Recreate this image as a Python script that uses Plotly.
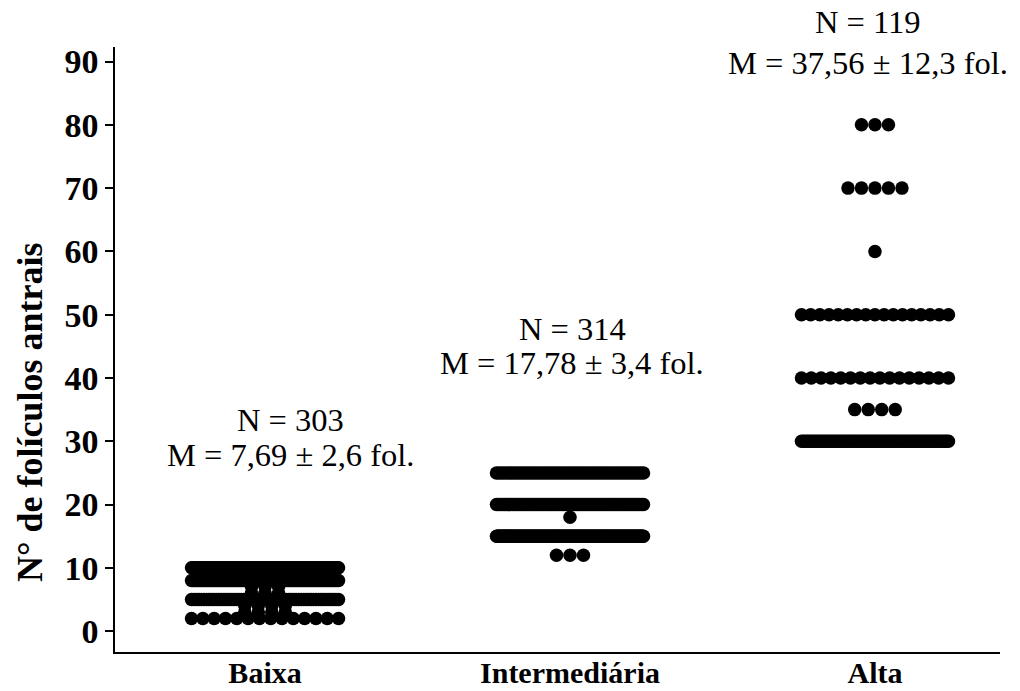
import numpy as np
import plotly.graph_objects as go

# ---------------- data ----------------
categories = ["Baixa", "Intermediária", "Alta"]
baixa_values = [10, 8, 7, 6, 5, 4, 3, 2]
baixa_counts = [120, 95, 3, 3, 60, 4, 4, 14]
inter_values = [25, 20, 18, 15, 12]
inter_counts = [50, 76, 1, 184, 3]
alta_values = [80, 70, 60, 50, 40, 35, 30]
alta_counts = [3, 5, 1, 17, 16, 4, 73]
n_labels = ["N = 303", "N = 314", "N = 119"]
m_labels = ["M = 7,69 ± 2,6 fol.", "M = 17,78 ± 3,4 fol.", "M = 37,56 ± 12,3 fol."]
y_ticks = [0, 10, 20, 30, 40, 50, 60, 70, 80, 90]

# ---------------- layout constants ----------------
W, H = 1020, 691
ML, MR, MT, MB = 115, 20, 47, 39
XR = [0.508, 3.41]
YR = [-3.3, 92.3]
pw = W - ML - MR
ph = H - MT - MB
pxu_x = pw / (XR[1] - XR[0])
DOT = 13.5          # dot diameter in px
WMAX = 147.0        # max spread of dot centres in px


def swarm(values, counts, centre):
    xs, ys = [], []
    for v, n in zip(values, counts):
        sp = min(DOT, WMAX / (n - 1)) if n > 1 else 0
        offs = (np.arange(n) - (n - 1) / 2.0) * sp / pxu_x
        xs.extend(centre + offs)
        ys.extend([v] * n)
    return xs, ys


groups = [(baixa_values, baixa_counts), (inter_values, inter_counts), (alta_values, alta_counts)]

fig = go.Figure()
for i, (vals, cnts) in enumerate(groups):
    xs, ys = swarm(vals, cnts, i + 1)
    fig.add_trace(go.Scatter(
        x=xs, y=ys, mode="markers",
        marker=dict(size=DOT, color="black", line=dict(width=0)),
        showlegend=False, hoverinfo="skip", cliponaxis=False,
    ))


def sx(px):   # screen px -> paper x
    return (px - ML) / pw


def sy(py):   # screen px -> paper y
    return (H - MB - py) / ph


FONT = "Liberation Serif, Times New Roman, serif"
ann_font = dict(family=FONT, size=32.5, color="black")
n_pos = [(290, 420), (572, 329), (868, 22)]
m_pos = [(290, 455), (572, 363), (868, 63)]
annotations = []
for i in range(3):
    annotations.append(dict(x=sx(n_pos[i][0]), y=sy(n_pos[i][1]), xref="paper", yref="paper",
                            text=n_labels[i], showarrow=False, font=ann_font,
                            xanchor="center", yanchor="middle"))
    annotations.append(dict(x=sx(m_pos[i][0]), y=sy(m_pos[i][1]), xref="paper", yref="paper",
                            text=m_labels[i], showarrow=False, font=ann_font,
                            xanchor="center", yanchor="middle"))

annotations.append(dict(x=sx(30), y=sy(413), xref="paper", yref="paper",
                        text="<b>N° de folículos antrais</b>", textangle=-90, showarrow=False,
                        font=dict(family=FONT, size=36, color="black"),
                        xanchor="center", yanchor="middle"))

ytick_font = dict(family=FONT, size=34, color="black")
xtick_font = dict(family=FONT, size=30, color="black")

fig.update_layout(
    width=W, height=H,
    margin=dict(l=ML, r=MR, t=MT, b=MB, pad=0),
    paper_bgcolor="white", plot_bgcolor="white",
    annotations=annotations,
    xaxis=dict(range=XR, tickvals=[1, 2, 3], ticktext=["<b>%s</b>" % c for c in categories],
               showline=True, linecolor="black", linewidth=1.5, ticks="", showgrid=False,
               zeroline=False, tickfont=xtick_font, ticklabelstandoff=-7,
               automargin=False, fixedrange=True),
    yaxis=dict(range=YR, tickvals=y_ticks, ticktext=["<b>%d</b>" % t for t in y_ticks],
               showline=True, linecolor="black", linewidth=1.5, ticks="outside", ticklen=8,
               tickwidth=1.5, tickcolor="black", showgrid=False, zeroline=False,
               tickfont=ytick_font, automargin=False, fixedrange=True),
)

fig.write_html("out.html", config={"displayModeBar": False},
               post_script="document.body.style.margin='0';")
